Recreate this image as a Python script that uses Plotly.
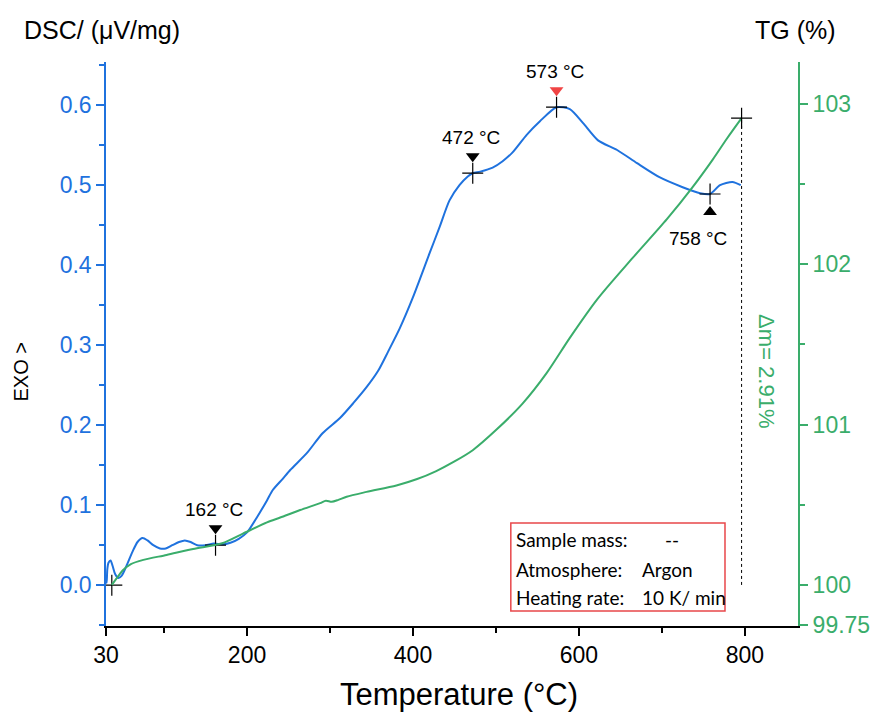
import plotly.graph_objects as go

# DSC signal (µV/mg) versus temperature (°C)
dsc_temp = [30.0, 30.8, 31.6, 33.0, 35.5, 38.0, 41.0, 45.0, 49.0, 55.0, 62.0, 68.0, 74.0, 80.0,
            87.0, 95.0, 102.0, 110.0, 118.0, 125.0, 132.0, 140.0, 150.0, 160.0, 170.0, 180.0,
            190.0, 200.0, 212.0, 224.0, 231.0, 243.0, 252.0, 272.0, 291.0, 312.0, 328.0, 344.0,
            358.0, 370.0, 384.0, 400.0, 420.0, 432.0, 444.0, 456.0, 466.0, 472.0, 481.0, 496.0,
            508.0, 520.0, 537.0, 553.0, 573.0, 589.0, 605.0, 623.0, 646.0, 670.0, 697.0, 725.0,
            746.0, 758.0, 770.0, 785.0, 795.0]
dsc_val = [0.012, 0.003, 0.020, 0.028, 0.031, 0.024, 0.014, 0.009, 0.012, 0.025, 0.042, 0.054,
           0.059, 0.056, 0.050, 0.046, 0.046, 0.050, 0.054, 0.056, 0.054, 0.050, 0.050, 0.052,
           0.051, 0.053, 0.058, 0.066, 0.085, 0.106, 0.119, 0.133, 0.144, 0.165, 0.190, 0.209,
           0.2275, 0.2475, 0.268, 0.292, 0.321, 0.360, 0.415, 0.4475, 0.481, 0.500, 0.511, 0.515,
           0.517, 0.522, 0.530, 0.541, 0.563, 0.580, 0.5975, 0.595, 0.5775, 0.556, 0.544, 0.5275,
           0.510, 0.4975, 0.490, 0.489, 0.500, 0.504, 0.500]

# TG mass curve (%) versus temperature (°C)
tg_temp = [37.0, 47.0, 50.0, 60.0, 75.0, 103.0, 135.0, 170.0, 195.0, 224.0, 240.0, 264.0, 288.0,
           295.0, 302.0, 310.0, 320.0, 344.0, 380.0, 405.0, 428.0, 450.0, 472.0, 501.0, 532.0,
           561.0, 589.0, 622.0, 665.0, 706.0, 737.0, 761.0, 778.0, 796.0]
tg_val = [100.0, 100.07, 100.09, 100.13, 100.156, 100.187, 100.224, 100.26, 100.32, 100.39,
          100.42, 100.467, 100.51, 100.525, 100.518, 100.53, 100.55, 100.58, 100.62, 100.66,
          100.71, 100.77, 100.84, 100.97, 101.13, 101.32, 101.54, 101.78, 102.04, 102.28, 102.48,
          102.65, 102.78, 102.91]

# Characteristic DSC points
peak_temp = [162, 472, 573, 758]
peak_dsc = [0.050, 0.515, 0.5975, 0.489]
peak_dir = ["down", "down", "down", "up"]
peak_color = ["black", "black", "#f04444", "black"]

x_ticks = [30, 200, 400, 600, 800]
x_minor = [100, 300, 500, 700]
y_ticks = [0.0, 0.1, 0.2, 0.3, 0.4, 0.5, 0.6]
y2_ticks = [99.75, 100, 101, 102, 103]
y2_minor = [100.5, 101.5, 102.5]

info_rows = [("Sample mass:", "--"), ("Atmosphere:", "Argon"), ("Heating rate:", "10 K/ min")]

BLUE = "#1f72de"
GREEN = "#3aad6b"
FONT = "Liberation Sans, Arial, sans-serif"
INFO_FONT = "Lato, sans-serif"

x_range = [30, 864]
y_range = [-0.051, 0.654]
y2_range = [99.744, 103.26]
plot_h = 716 - 62 - 90
dsc_per_px = (y_range[1] - y_range[0]) / plot_h

fig = go.Figure()

fig.add_trace(go.Scatter(x=dsc_temp, y=dsc_val, mode="lines",
                         line=dict(color=BLUE, width=2, shape="spline", smoothing=0.7),
                         hoverinfo="skip", showlegend=False))
fig.add_trace(go.Scatter(x=tg_temp, y=tg_val, mode="lines", yaxis="y2",
                         line=dict(color=GREEN, width=2, shape="spline", smoothing=0.8),
                         hoverinfo="skip", showlegend=False))

# Mass change guide line
fig.add_trace(go.Scatter(x=[tg_temp[-1], tg_temp[-1]], y=[tg_val[0], tg_val[-1]], yaxis="y2",
                         mode="lines", line=dict(color="black", width=1, dash="dot"),
                         hoverinfo="skip", showlegend=False))

# Crosses on the DSC points and the TG end points
cross = dict(symbol="cross-thin", size=15, line=dict(color="black", width=1.2))
fig.add_trace(go.Scatter(x=peak_temp + [tg_temp[0]], y=peak_dsc + [0.0], mode="markers",
                         marker=cross, hoverinfo="skip", showlegend=False))
fig.add_trace(go.Scatter(x=[tg_temp[-1]], y=[tg_val[-1]], yaxis="y2", mode="markers",
                         marker=cross, hoverinfo="skip", showlegend=False))

# Triangles pointing at each DSC point, with temperature labels
for t, v, d, c in zip(peak_temp, peak_dsc, peak_dir, peak_color):
    if d == "down":
        ty = v + 17 * dsc_per_px
        sym = "triangle-down"
        lab_shift = 36
        xs = -2
    else:
        ty = v - 18 * dsc_per_px
        sym = "triangle-up"
        lab_shift = -44
        xs = -12
    fig.add_trace(go.Scatter(x=[t], y=[ty], mode="markers",
                             marker=dict(symbol=sym, size=12, color=c, line=dict(width=0)),
                             hoverinfo="skip", showlegend=False))
    fig.add_annotation(x=t, y=v, xref="x", yref="y", text=f"{t} °C", showarrow=False,
                       yshift=lab_shift, xshift=xs,
                       font=dict(family=FONT, size=19, color="black"))

# Mass change label
fig.add_annotation(x=826, y=101.33, xref="x", yref="y2",
                   text=f"Δm= {tg_val[-1] - tg_val[0]:.2f}%", textangle=90, showarrow=False,
                   xanchor="center", yanchor="middle",
                   font=dict(family=FONT, size=22, color=GREEN))

# Axis titles
fig.add_annotation(x=-0.121, y=1.057, xref="paper", yref="paper", text="DSC/ (μV/mg)",
                   showarrow=False, xanchor="left", yanchor="middle",
                   font=dict(family=FONT, size=25, color="black"))
fig.add_annotation(x=1.058, y=1.057, xref="paper", yref="paper", text="TG (%)",
                   showarrow=False, xanchor="right", yanchor="middle",
                   font=dict(family=FONT, size=25, color="black"))
fig.add_annotation(x=-0.123, y=0.451, xref="paper", yref="paper", text="EXO >",
                   textangle=-90, showarrow=False, xanchor="center", yanchor="middle",
                   font=dict(family=FONT, size=20, color="black"))
fig.add_annotation(x=0.51, y=-0.122, xref="paper", yref="paper", text="Temperature (°C)",
                   showarrow=False, xanchor="center", yanchor="middle",
                   font=dict(family=FONT, size=31, color="black"))

# Measurement info box
fig.add_shape(type="rect", xref="paper", yref="paper", x0=0.585, x1=0.8945, y0=0.0266, y1=0.1826,
              line=dict(color="#e8474a", width=1.5), fillcolor="rgba(0,0,0,0)")
row_y = [0.1525, 0.101, 0.0514]
for (label, val), yy in zip(info_rows, row_y):
    fig.add_annotation(x=0.5896, y=yy, xref="paper", yref="paper", text=label, showarrow=False,
                       xanchor="left", yanchor="middle",
                       font=dict(family=INFO_FONT, size=19, color="black"))
    vx = 0.805 if val == "--" else 0.7717
    fig.add_annotation(x=vx, y=yy, xref="paper", yref="paper", text=val, showarrow=False,
                       xanchor="left", yanchor="middle",
                       font=dict(family=INFO_FONT, size=19, color="black"))

fig.update_layout(
    width=878, height=716,
    margin=dict(l=106, r=80, t=62, b=90, autoexpand=False),
    paper_bgcolor="white", plot_bgcolor="white",
    font=dict(family=FONT),
    xaxis=dict(range=x_range, tickvals=x_ticks, ticktext=[str(v) for v in x_ticks],
               automargin=False,
               showgrid=False, zeroline=False, showline=True, linecolor="black", linewidth=1.5,
               ticks="outside", ticklen=8, tickwidth=1.5, tickcolor="black",
               minor=dict(tickvals=x_minor, ticks="outside", ticklen=5, tickwidth=1.5,
                          tickcolor="black"),
               tickfont=dict(size=23, color="black")),
    yaxis=dict(range=y_range, tickvals=y_ticks, ticktext=[f"{v:.1f}" for v in y_ticks],
               automargin=False,
               showgrid=False, zeroline=False, showline=True, linecolor=BLUE, linewidth=1.5,
               ticks="outside", ticklen=8, tickwidth=1.5, tickcolor=BLUE,
               minor=dict(dtick=0.05, tick0=0, ticks="outside", ticklen=5, tickwidth=1.5,
                          tickcolor=BLUE),
               tickfont=dict(size=23, color=BLUE)),
    yaxis2=dict(range=y2_range, overlaying="y", side="right", anchor="x",
                tickvals=y2_ticks, ticktext=["99.75", "100", "101", "102", "103"],
                automargin=False,
                showgrid=False, zeroline=False, showline=True, linecolor=GREEN, linewidth=2,
                ticks="outside", ticklen=8, tickwidth=1.5, tickcolor=GREEN,
                minor=dict(tickvals=y2_minor, ticks="outside", ticklen=5, tickwidth=1.5,
                           tickcolor=GREEN),
                tickfont=dict(size=23, color=GREEN)),
)

fig.write_html("out.html")
